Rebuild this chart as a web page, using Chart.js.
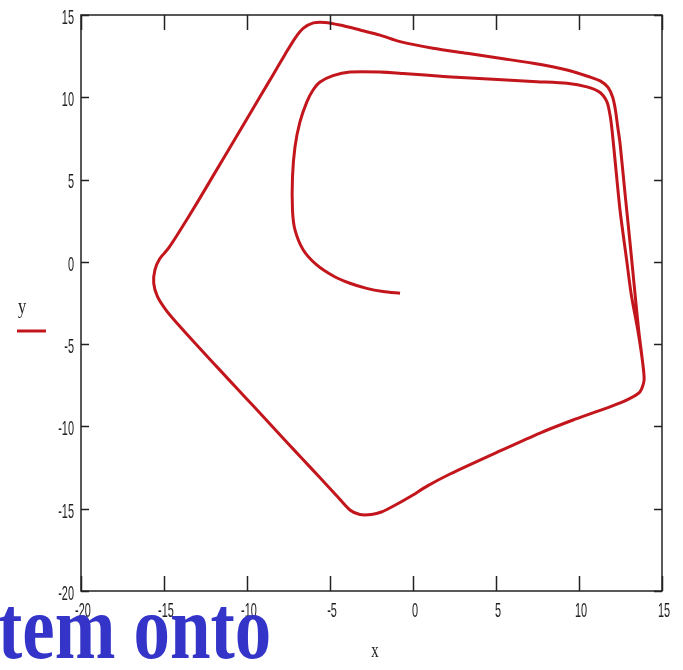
<!DOCTYPE html>
<html>
<head>
<meta charset="utf-8">
<script src="https://cdn.jsdelivr.net/npm/chart.js@4.4.1/dist/chart.umd.min.js"></script>
<style>
  body { margin: 0; background: #fff; }
  #wrap { width: 683px; height: 670px; position: relative; }
</style>
</head>
<body>
<div id="wrap"><canvas id="grafico" width="683" height="670"></canvas></div>
<script>
// trayectoria (x, y): espiral interior que sale del centro y luego el ciclo exterior
const xs = [-0.78, -1.81, -2.79, -3.80, -4.80, -5.80, -6.61, -7.11, -7.26, -7.26, -7.11, -6.81, -6.40, -6.02, -5.60, -4.82,
  -3.80, -1.99, -0.60, 2.05, 4.82, 7.47, 9.28, 10.48, 11.27, 11.69, 11.87, 11.99, 12.17, 12.47, 12.87,
  13.15, 13.55, 13.82, 13.92, 13.67, 12.89, 11.9, 10.84, 9.64, 7.65, 5.24, 2.23, 0.9, -0.18, -1.2, -1.9, -2.5, -3.2,
  -3.80, -4.6, -5.6, -6.6, -7.6, -8.6, -9.6, -10.6, -11.6, -12.6, -13.4, -14.2, -14.9, -15.4, -15.62, -15.55, -15.25, -14.75,
  -14.1, -13.0, -12.0, -11.0, -10.0, -9.2, -8.4, -7.7, -7.1, -6.6, -6.0, -5.3, -4.4, -3.19, -1.99, -0.78, 1.20, 3.25, 5.24,
  7.23, 9.28, 10.66, 11.3, 11.75, 12.03, 12.2, 12.32, 12.47, 12.77, 13.08, 13.38, 13.6, 13.82, 13.92, 13.67, 12.89, 11.9, 10.84];
const ys = [-1.91, -1.80, -1.61, -1.30, -0.86, -0.19, 0.72, 1.94, 3.15, 5.16, 6.98, 8.50, 9.71, 10.44, 10.93, 11.32,
  11.54, 11.54, 11.45, 11.25, 11.09, 10.95, 10.85, 10.63, 10.29, 9.71, 8.92, 8.01, 6.19, 3.15, 0.11,
  -2.0, -4.2, -6.0, -7.18, -7.91, -8.39, -8.8, -9.18, -9.61, -10.40, -11.49, -12.89, -13.6, -14.27, -14.85, -15.2, -15.35, -15.35,
  -15.08, -14.21, -13.12, -12.04, -10.96, -9.87, -8.78, -7.70, -6.61, -5.52, -4.64, -3.75, -2.9, -2.1, -1.3, -0.5, 0.2, 0.8,
  1.8, 3.6, 5.3, 7.0, 8.7, 10.06, 11.42, 12.62, 13.6, 14.2, 14.52, 14.55, 14.39, 14.09, 13.78, 13.38, 12.98, 12.67, 12.37,
  12.07, 11.66, 11.23, 10.98, 10.6, 10.0, 9.2, 8.3, 7.22, 4.18, 1.1, -2.0, -4.2, -6.0, -7.18, -7.91, -8.39, -8.8, -9.18];

const xTicks = [-20, -15, -10, -5, 0, 5, 10, 15];
const yTicks = [-20, -15, -10, -5, 0, 5, 10, 15];

const rojo = '#c2161c';
const negro = '#222';

// texto estrecho (las fuentes del eje son condensadas)
function textoEstrecho(c, txt, x, y, font, sx, align) {
  c.save();
  c.font = font;
  c.textBaseline = 'middle';
  const w = c.measureText(txt).width * sx;
  let x0 = x;
  if (align === 'center') x0 = x - w / 2;
  if (align === 'right') x0 = x - w;
  c.translate(x0, y);
  c.scale(sx, 1);
  c.textAlign = 'left';
  c.fillText(txt, 0, 0);
  c.restore();
}

// marco, marcas interiores, etiquetas, leyenda y titulos
const marco = {
  id: 'marco',
  afterDraw(chart) {
    const c = chart.ctx;
    const a = chart.chartArea;
    const sx = chart.scales.x, sy = chart.scales.y;
    c.save();
    c.strokeStyle = negro;
    c.lineWidth = 1.5;
    c.strokeRect(a.left, a.top, a.right - a.left, a.bottom - a.top);
    c.beginPath();
    xTicks.forEach(t => {
      const px = Math.round(sx.getPixelForValue(t)) + 0.5;
      c.moveTo(px, a.bottom); c.lineTo(px, a.bottom - 15);
      c.moveTo(px, a.top); c.lineTo(px, a.top + 15);
    });
    yTicks.forEach(t => {
      const py = Math.round(sy.getPixelForValue(t)) + 0.5;
      c.moveTo(a.left, py); c.lineTo(a.left + 8, py);
      c.moveTo(a.right, py); c.lineTo(a.right - 8, py);
    });
    c.stroke();

    c.fillStyle = negro;
    const f = '21px "Liberation Sans"';
    yTicks.forEach(t => {
      textoEstrecho(c, String(t), a.left - 7, sy.getPixelForValue(t) + 3, f, 0.52, 'right');
    });
    xTicks.forEach(t => {
      textoEstrecho(c, String(t), sx.getPixelForValue(t) + 2, a.bottom + 20, f, 0.52, 'center');
    });

    // nombre del eje x
    textoEstrecho(c, 'x', 375, 651, '21px "Liberation Serif"', 0.7, 'center');

    // leyenda
    textoEstrecho(c, 'y', 22, 307, '22px "Liberation Serif"', 0.75, 'center');
    c.strokeStyle = rojo;
    c.lineWidth = 3;
    c.beginPath();
    c.moveTo(17, 331); c.lineTo(46, 331);
    c.stroke();

    // texto azul de la diapositiva
    c.save();
    c.font = 'bold 90px "Liberation Serif"';
    c.fillStyle = '#3434c8';
    c.textBaseline = 'alphabetic';
    c.translate(-2, 658);
    c.scale(0.81, 1);
    c.fillText('tem onto', 0, 0);
    c.restore();
    c.restore();
  }
};

const ctx = document.getElementById('grafico').getContext('2d');
new Chart(ctx, {
  type: 'scatter',
  data: {
    datasets: [{
      label: 'y',
      data: xs.map((x, i) => ({ x: x, y: ys[i] })),
      showLine: true,
      borderColor: rojo,
      borderWidth: 3,
      pointRadius: 0,
      tension: 0.25,
      fill: false
    }]
  },
  options: {
    responsive: false,
    animation: false,
    layout: { padding: { left: 0, right: 21, top: 15, bottom: 0 } },
    plugins: { legend: { display: false }, tooltip: { enabled: false } },
    scales: {
      x: {
        min: -20, max: 15,
        grid: { display: false },
        border: { display: false },
        ticks: { display: false },
        afterFit: s => { s.height = 79; }
      },
      y: {
        min: -20, max: 15,
        grid: { display: false },
        border: { display: false },
        ticks: { display: false },
        afterFit: s => { s.width = 81; }
      }
    }
  },
  plugins: [marco]
});
</script>
</body>
</html>
